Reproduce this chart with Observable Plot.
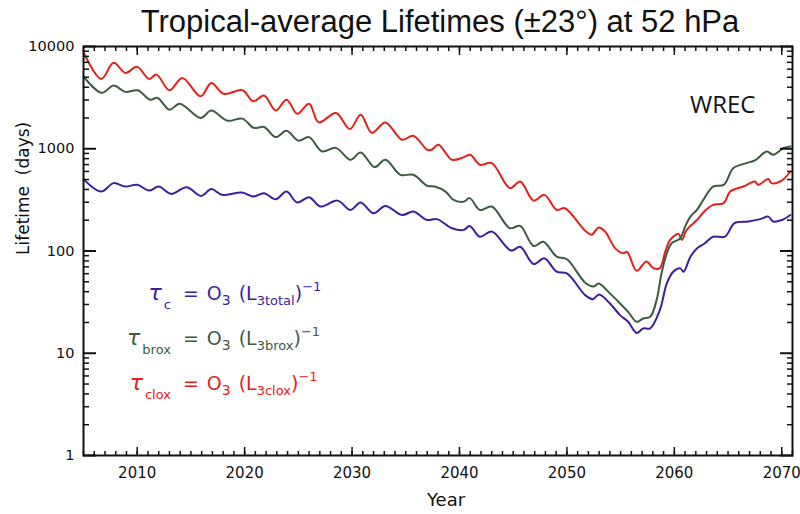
<!DOCTYPE html>
<html>
<head>
<meta charset="utf-8">
<script src="https://cdn.jsdelivr.net/npm/d3@7"></script>
<script src="https://cdn.jsdelivr.net/npm/@observablehq/plot@0.6"></script>
<style>
  body { margin: 0; background: #fff; position: relative; }
  #title { position: absolute; left: 0; top: 0; width: 800px; height: 44px; font-family: "Liberation Sans", Arial, sans-serif; font-size: 31px;
           text-align: center; line-height: 44px; padding-left: 80px; box-sizing: border-box; color: #111; white-space: nowrap; z-index: 2; }
  #chart { padding-top: 30px; }
  #chart svg { display: block; }
</style>
</head>
<body>
<div id="title">Tropical-average Lifetimes (±23°) at 52 hPa</div>
<div id="chart"></div>
<script>
// ---- Data ----
const redYear = [2005.0,2006.65,2007.8,2008.9,2010.0,2011.1,2011.8,2013.0,2014.2,2015.9,2016.9,2018.05,2019.8,2020.8,2021.8,2022.9,2023.9,2024.9,2026.0,2026.9,2028.5,2029.8,2030.8,2031.85,2033.1,2034.65,2035.7,2037.0,2037.4,2038.05,2039.3,2040.4,2041.0,2041.9,2043.0,2044.7,2045.65,2046.9,2047.9,2049.05,2049.8,2051.7,2052.3,2052.95,2053.55,2054.5,2055.25,2055.6,2056.5,2057.4,2058.05,2058.65,2059.15,2059.6,2060.4,2060.7,2061.15,2062.1,2062.85,2063.6,2064.6,2065.2,2066.4,2067.5,2067.8,2068.75,2069.05,2070.0,2070.8];
const redValue = [8790,4820,6920,5520,6320,4820,5310,3730,4930,3260,4400,3440,3730,2910,3310,2370,3020,2200,2760,1810,2240,1560,2150,1430,1810,1225,1340,977,977,1095,780,828,873,697,724,412,478,311,354,252,262,158,144,170,155,106,95,98,64,79,68,68,98,128,147,128,161,201,248,283,294,381,427,478,444,505,461,489,599];

const greenYear = [2005.0,2006.7,2007.8,2008.9,2010.05,2011.2,2011.9,2013.0,2013.96,2015.9,2016.9,2018.4,2019.8,2020.85,2021.8,2022.9,2023.9,2025.0,2026.0,2027.2,2028.5,2029.85,2030.8,2032.1,2033.1,2034.5,2035.7,2037.0,2037.7,2038.7,2039.45,2040.4,2040.95,2041.9,2043.0,2044.7,2045.65,2046.9,2047.8,2049.05,2050.0,2051.7,2052.5,2052.95,2054.0,2054.95,2055.7,2056.5,2057.1,2057.75,2058.35,2058.8,2059.3,2059.75,2060.55,2061.0,2061.5,2062.1,2062.7,2063.6,2064.6,2065.5,2066.7,2067.5,2068.6,2069.2,2070.15,2070.8];
const greenValue = [5110,3520,4150,3600,3730,3020,3140,2410,2760,2000,2360,1880,1970,1600,1630,1300,1500,1200,1300,941,1020,780,920,662,780,556,556,434,427,381,316,304,329,252,272,167,176,112,123,88,83,49,45,48,38.5,30.7,25.4,20.3,21.9,22.7,33.1,60,95,119,133,173,217,252,316,427,444,647,724,768,941,873,1016,1055];

const blueYear = [2005.0,2006.65,2007.8,2008.9,2010.0,2011.1,2012.0,2013.15,2014.6,2015.95,2016.9,2017.9,2019.75,2020.8,2021.8,2022.9,2023.9,2024.9,2026.0,2027.05,2028.65,2029.85,2030.8,2032.0,2033.1,2034.65,2035.7,2037.0,2037.9,2039.3,2040.4,2040.95,2041.9,2043.0,2044.8,2045.65,2046.9,2047.9,2049.05,2050.0,2051.7,2052.4,2053.0,2054.0,2054.95,2055.7,2056.5,2057.1,2057.75,2058.65,2059.3,2059.9,2060.55,2060.85,2061.5,2062.1,2062.85,2063.6,2064.7,2065.6,2066.9,2068.0,2068.75,2069.2,2070.0,2070.8];
const blueValue = [505,381,461,427,444,390,427,362,421,346,403,354,373,341,368,321,381,298,336,272,311,252,298,234,276,225,243,201,205,167,161,176,138,155,101,110,74.6,84.8,62.7,60.4,37,33.8,37.5,30.7,23.6,20.3,15.8,17.5,17.5,26.4,48.2,62.7,67.6,62.7,88,106,119,138,138,187,194,205,217,194,201,225];

const seriesNames = ["clox", "brox", "total"];
const xMajorTicks = [2010, 2020, 2030, 2040, 2050, 2060, 2070];
const xMinorTicks = d3.range(2005, 2072);
const yMajorTicks = [1, 10, 100, 1000, 10000];
const yMinorTicks = [1, 10, 100, 1000].flatMap(d => [2,3,4,5,6,7,8,9].map(m => m * d));
const yTickLabels = ["1", "10", "100", "1000", "10000"];

// ---- Styles ----
const colors = { clox: "#e2201c", brox: "#3e5a40", total: "#3b1f9e" };
const rows = [
  ...redYear.map((y, i) => ({ series: "clox", year: y, value: redValue[i] })),
  ...greenYear.map((y, i) => ({ series: "brox", year: y, value: greenValue[i] })),
  ...blueYear.map((y, i) => ({ series: "total", year: y, value: blueValue[i] }))
];

const tickFont = "DejaVu Sans, sans-serif";
const blank = () => "";

const plot = Plot.plot({
  width: 800,
  height: 484,
  marginTop: 16,
  marginBottom: 59,
  marginLeft: 83,
  marginRight: 8,
  x: { domain: [2005, 2071] },
  y: { type: "log", domain: [1, 10000] },
  style: { fontFamily: tickFont, fontSize: "15px", color: "#111", background: "transparent" },
  marks: [
    ...seriesNames.map(s => Plot.line(rows.filter(r => r.series === s), {
      x: "year", y: "value", stroke: colors[s], strokeWidth: 2, curve: "catmull-rom"
    })),
    Plot.frame({ stroke: "#111", strokeWidth: 2 }),
    // labels
    Plot.axisX({ ticks: xMajorTicks, tickSize: 0, tickPadding: 12, tickFormat: d => String(d), label: null, fontSize: 15 }),
    Plot.axisY({ ticks: yMajorTicks, tickSize: 0, tickPadding: 9, tickFormat: d => yTickLabels[yMajorTicks.indexOf(d)], label: null, fontSize: 14.5 }),
    // inward ticks, all sides
    ...["bottom", "top"].flatMap(a => [
      Plot.axisX({ anchor: a, ticks: xMinorTicks, tickSize: -4, tickFormat: blank, label: null, strokeWidth: 1.5, stroke: "#111" }),
      Plot.axisX({ anchor: a, ticks: xMajorTicks, tickSize: -8, tickFormat: blank, label: null, strokeWidth: 1.5, stroke: "#111" })
    ]),
    ...["left", "right"].flatMap(a => [
      Plot.axisY({ anchor: a, ticks: yMinorTicks, tickSize: -6, tickFormat: blank, label: null, strokeWidth: 1.5, stroke: "#111" }),
      Plot.axisY({ anchor: a, ticks: yMajorTicks, tickSize: -13, tickFormat: blank, label: null, strokeWidth: 2, stroke: "#111" })
    ]),
    Plot.text(["Year"], { frameAnchor: "bottom", dx: 8, dy: 50, text: d => d, fontSize: 18, fill: "#111", fontFamily: tickFont }),
    Plot.text(["Lifetime  (days)"], { frameAnchor: "left", dx: -60, dy: 4, rotate: -90, text: d => d, fontSize: 17, fill: "#111", fontFamily: tickFont }),
    Plot.text(["WREC"], { frameAnchor: "top-right", dx: -37, dy: 49, text: d => d, fontSize: 24, fill: "#111", fontFamily: "Open Sans, sans-serif" })
  ]
});

document.getElementById("chart").appendChild(plot);

// ---- Legend: τ = O3 (L3x)^-1 rendered with tspans ----
const sx = plot.scale("x"), sy = plot.scale("y");
const legendYear = 2014.3;           // x anchor of "=" (data units)
const legendItems = [
  { sub: "c",    rhs: "3total", color: colors.total, at: 33 },
  { sub: "brox", rhs: "3brox",  color: colors.brox,  at: 12 },
  { sub: "clox", rhs: "3clox",  color: colors.clox,  at: 4.35 }
];
const svg = d3.select(plot);
const g = svg.append("g").attr("font-family", tickFont).attr("font-size", 19);
legendItems.forEach(it => {
  const x = sx.apply(legendYear), y = sy.apply(it.at);
  const left = g.append("text").attr("x", x - 12).attr("y", y).attr("text-anchor", "end").attr("fill", it.color);
  left.append("tspan").attr("font-size", 22).attr("font-family", "DejaVu Sans, sans-serif").attr("font-style", "italic").text("τ");
  left.append("tspan").attr("font-size", 13).attr("dy", 9).attr("dx", 2).text(it.sub);
  const right = g.append("text").attr("x", x).attr("y", y).attr("text-anchor", "start").attr("fill", it.color);
  right.append("tspan").text("=");
  right.append("tspan").attr("dx", 8).text("O");
  right.append("tspan").attr("font-size", 14).attr("dy", 5).text("3");
  right.append("tspan").attr("dx", 8).attr("dy", -5).text("(L");
  right.append("tspan").attr("font-size", 13).attr("dy", 5).text(it.rhs);
  right.append("tspan").attr("dy", -5).text(")");
  right.append("tspan").attr("font-size", 13).attr("dy", -9).text("−1");
});
</script>
</body>
</html>
